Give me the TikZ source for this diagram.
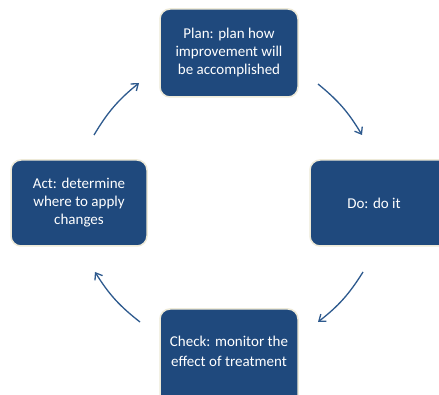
\documentclass[tikz,border=0pt]{standalone}
\usepackage{fontspec}
\setmainfont{Carlito}
\usetikzlibrary{arrows.meta}
\definecolor{boxblue}{HTML}{1F497D}
\definecolor{edgecream}{HTML}{EEEAD8}
\definecolor{arrowblue}{HTML}{2E5A8E}
\begin{document}
\begin{tikzpicture}[x=1pt,y=-1pt,
  stagebox/.style={draw=edgecream, line width=1.5pt, fill=boxblue, rounded corners=10pt,
    text=white, align=center, font=\fontsize{15}{18}\selectfont, inner sep=0pt},
  cyclearrow/.style={draw=arrowblue, line width=1.3pt, -{Straight Barb[length=6pt,width=9pt]}}]
\useasboundingbox (0,0) rectangle (439,395);
\clip (0,0) rectangle (439,395);
\path[fill=white] (0,0) rectangle (439,395);
\node[stagebox, minimum width=138pt, minimum height=88pt] (plan) at (229,53) {Plan: plan how\\improvement will\\be accomplished};
\node[stagebox, minimum width=136pt, minimum height=86pt] (act) at (79,203) {Act: determine\\where to apply\\changes};
\node[stagebox, minimum width=150pt, minimum height=86pt] (do) at (385,203) {\hspace*{-22pt}Do: do it};
\node[stagebox, minimum width=138pt, minimum height=100pt] (check) at (229,359) {\raisebox{3pt}[0pt][0pt]{\begin{tabular}{@{}c@{}}Check: monitor the\\[2pt]effect of treatment\end{tabular}}};
\coordinate (a1s) at (94,135);
\coordinate (a1e) at (139,83);
\coordinate (a2s) at (318,84);
\coordinate (a2e) at (362,135);
\coordinate (a3s) at (363,272);
\coordinate (a3e) at (318,322);
\coordinate (a4s) at (140,322);
\coordinate (a4e) at (95,272);
\draw[cyclearrow] (a1s) to[bend left=10] (a1e);
\draw[cyclearrow] (a2s) to[bend left=10] (a2e);
\draw[cyclearrow] (a3s) to[bend left=10] (a3e);
\draw[cyclearrow] (a4s) to[bend left=10] (a4e);
\end{tikzpicture}
\end{document}
